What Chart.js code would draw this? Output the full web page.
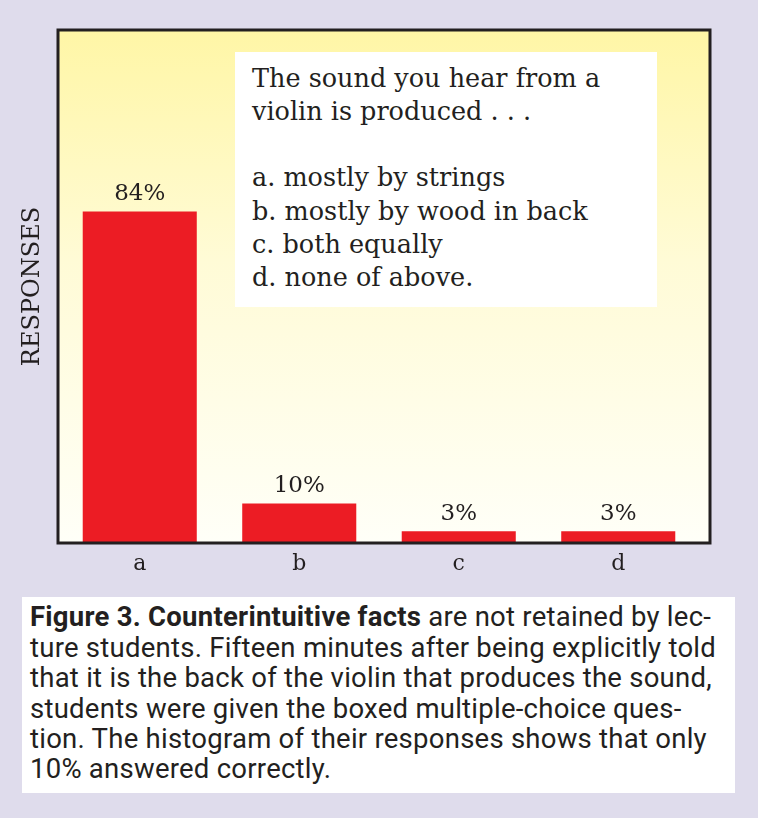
<!DOCTYPE html>
<html>
<head>
<meta charset="utf-8">
<script src="https://cdn.jsdelivr.net/npm/chart.js@4"></script>
<style>
  html, body { margin: 0; padding: 0; }
  body { width: 758px; height: 818px; background: #dfdcec; position: relative; overflow: hidden; }
  #wrap { position: absolute; left: 0; top: 0; width: 758px; height: 590px; }
  #question {
    position: absolute; left: 235px; top: 52px; width: 405px; height: 245.5px;
    background: #fff; padding: 9.5px 0 0 17px;
    font-family: "DejaVu Serif", serif; font-size: 25.5px; line-height: 33.3px; color: #231f20;
  }
  #caption {
    position: absolute; left: 22px; top: 597px; width: 705px; height: 190.6px;
    background: #fff; padding: 5.4px 0 0 8px;
    font-family: "Roboto", sans-serif; font-size: 27.5px; line-height: 30.4px;
    letter-spacing: 0.25px; color: #231f20;
  }
</style>
</head>
<body>
<div id="wrap"><canvas id="bar-chart"></canvas></div>
<div id="question">The sound you hear from a<br>violin is produced . . .<br><br>a. mostly by strings<br>b. mostly by wood in back<br>c. both equally<br>d. none of above.</div>
<div id="caption"><b>Figure 3. Counterintuitive facts</b> are not retained by lec-<br>ture students. Fifteen minutes after being explicitly told<br>that it is the back of the violin that produces the sound,<br>students were given the boxed multiple-choice ques-<br>tion. The histogram of their responses shows that only<br>10% answered correctly.</div>
<script>
"use strict";

const answers = ["a", "b", "c", "d"];
const responses = [84, 10, 3, 3];

const ink = "#231f20";
const serif = "'DejaVu Serif', serif";

// yellow-to-white panel behind the bars plus the dark frame
const panel = {
  id: "panel",
  beforeDraw(chart) {
    const { ctx, chartArea: a } = chart;
    const g = ctx.createLinearGradient(0, a.top, 0, a.bottom);
    g.addColorStop(0, "#fff6a6");
    g.addColorStop(0.45, "#fffbd6");
    g.addColorStop(1, "#fffff8");
    ctx.save();
    ctx.fillStyle = g;
    ctx.fillRect(a.left - 2, a.top, a.right - a.left + 14, a.bottom - a.top);
    ctx.restore();
  },
  afterDraw(chart) {
    const { ctx, chartArea: a } = chart;
    ctx.save();
    ctx.strokeStyle = ink;
    ctx.lineWidth = 3;
    ctx.strokeRect(a.left - 2, a.top, a.right - a.left + 14, a.bottom - a.top);
    ctx.restore();
  },
};

const barLabels = {
  id: "barLabels",
  afterDatasetsDraw(chart) {
    const { ctx } = chart;
    const meta = chart.getDatasetMeta(0);
    ctx.save();
    ctx.fillStyle = ink;
    ctx.font = "23px " + serif;
    ctx.textAlign = "center";
    ctx.textBaseline = "bottom";
    meta.data.forEach((bar, i) => {
      ctx.fillText(responses[i] + "%", bar.x, bar.y - 6);
    });
    ctx.restore();
  },
};

new Chart(document.getElementById("bar-chart"), {
  type: "bar",
  data: {
    labels: answers,
    datasets: [
      {
        label: "Responses",
        data: responses,
        backgroundColor: "#ec1c24",
        borderWidth: 0,
        barPercentage: 0.715,
        categoryPercentage: 1,
      },
    ],
  },
  options: {
    responsive: true,
    maintainAspectRatio: false,
    animation: false,
    layout: { padding: { top: 30, right: 60, bottom: 0, left: 0 } },
    plugins: {
      legend: { display: false },
      tooltip: { enabled: false },
    },
    scales: {
      x: {
        grid: { display: false, drawTicks: false },
        border: { display: false },
        ticks: { color: ink, font: { family: serif, size: 22 }, padding: 8 },
        afterFit: (s) => { s.height = 47; },
      },
      y: {
        min: 0,
        max: 130,
        grid: { display: false, drawTicks: false },
        border: { display: false },
        ticks: { display: false },
        title: {
          display: true,
          text: "RESPONSES",
          color: ink,
          font: { family: serif, size: 24 },
          padding: { top: 18.6, bottom: 0 },
        },
        afterFit: (s) => { s.width = 60; },
      },
    },
  },
  plugins: [panel, barLabels],
});
</script>
</body>
</html>
